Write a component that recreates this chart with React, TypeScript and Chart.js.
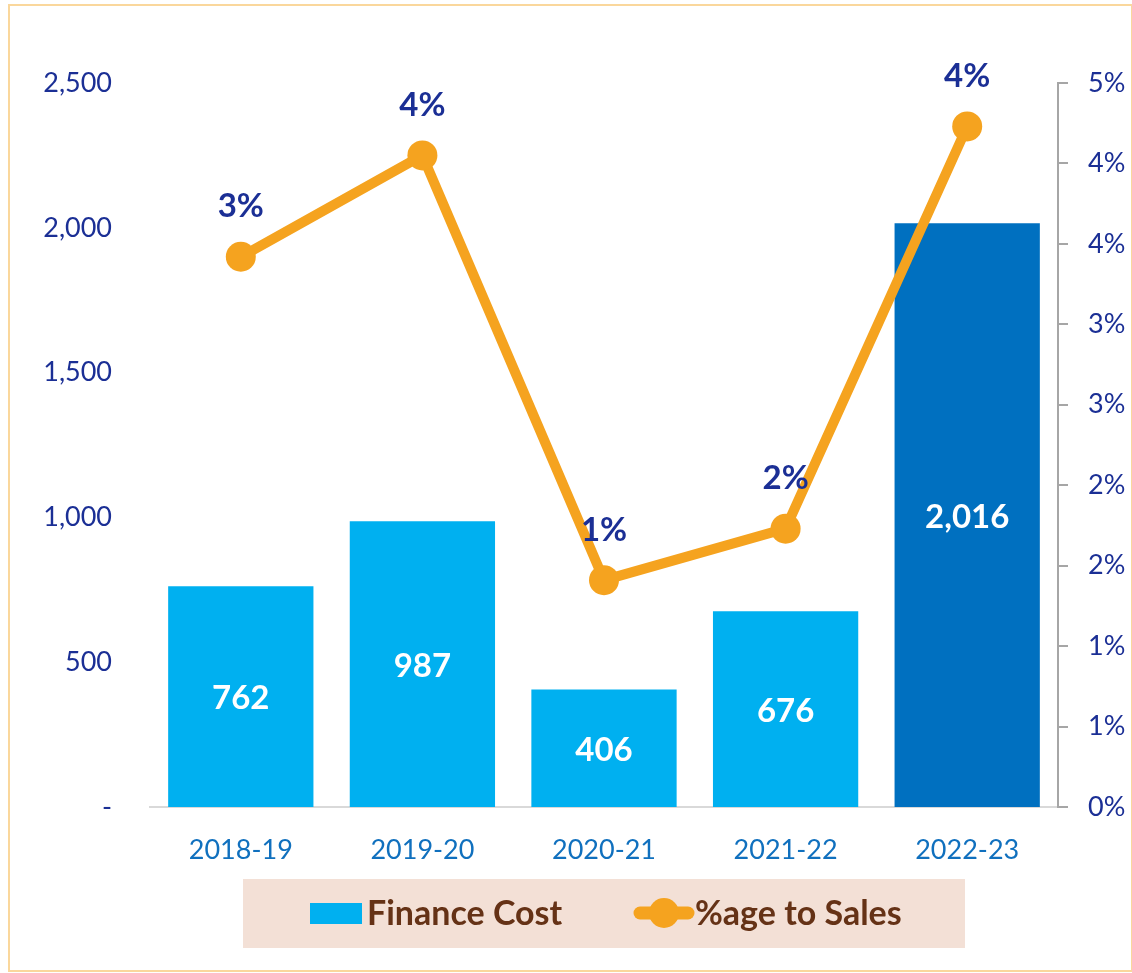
import React, { useEffect, useRef } from 'react';
import { Chart, registerables } from 'chart.js';

Chart.register(...registerables);

const categories = ['2018-19', '2019-20', '2020-21', '2021-22', '2022-23'];
const financeCost = [762, 987, 406, 676, 2016];
const pctToSales = [3.42, 4.05, 1.41, 1.73, 4.23];
const barColors = ['#00B0F0', '#00B0F0', '#00B0F0', '#00B0F0', '#0070C0'];
const leftAxis = { min: 0, max: 2500, step: 500 };
const rightAxis = { min: 0, max: 4.5, step: 0.5 };
const legendLabels = ['Finance Cost', '%age to Sales'];

const W = 1132;
const H = 973;
const FONT = 'Lato';
const NAVY = '#1B2F95';
const ORANGE = '#F5A31F';
const BROWN = '#653216';

const decorPlugin = {
  id: 'decor',
  beforeDraw(chart: any) {
    const ctx = chart.ctx;
    ctx.save();
    ctx.fillStyle = '#FFFFFF';
    ctx.fillRect(0, 0, W, H);
    ctx.strokeStyle = '#FAD79C';
    ctx.lineWidth = 2;
    ctx.strokeRect(9, 5, W - 9, H - 7);
    ctx.restore();
  },
  afterDatasetsDraw(chart: any) {
    const ctx = chart.ctx;
    ctx.save();
    ctx.textAlign = 'center';
    ctx.textBaseline = 'middle';
    const barMeta = chart.getDatasetMeta(1);
    ctx.font = `bold 33px ${FONT}`;
    ctx.fillStyle = '#FFFFFF';
    barMeta.data.forEach((el: any, i: number) => {
      const cy = (el.y + el.base) / 2;
      ctx.fillText(financeCost[i].toLocaleString('en-US'), el.x, cy + 2);
    });
    const lineMeta = chart.getDatasetMeta(0);
    ctx.fillStyle = NAVY;
    lineMeta.data.forEach((el: any, i: number) => {
      ctx.fillText(Math.round(pctToSales[i]) + '%', el.x, el.y - 50);
    });
    ctx.restore();
  },
  afterDraw(chart: any) {
    const ctx = chart.ctx;
    ctx.save();
    ctx.fillStyle = '#F3E0D6';
    ctx.fillRect(243, 879, 722, 69);
    ctx.fillStyle = '#00B0F0';
    ctx.fillRect(310, 903, 52, 21);
    ctx.font = `bold 34px ${FONT}`;
    ctx.fillStyle = BROWN;
    ctx.textAlign = 'left';
    ctx.textBaseline = 'middle';
    ctx.fillText(legendLabels[0], 367, 914);
    ctx.strokeStyle = ORANGE;
    ctx.lineWidth = 13;
    ctx.lineCap = 'round';
    ctx.beginPath();
    ctx.moveTo(640, 913);
    ctx.lineTo(688, 913);
    ctx.stroke();
    ctx.fillStyle = ORANGE;
    ctx.beginPath();
    ctx.arc(664, 913, 15, 0, Math.PI * 2);
    ctx.fill();
    ctx.fillStyle = BROWN;
    ctx.fillText(legendLabels[1], 695, 914);
    ctx.restore();
  },
};

export default function App() {
  const ref = useRef<HTMLCanvasElement>(null);
  useEffect(() => {
    if (!ref.current) return;
    const chart = new Chart(ref.current, {
      type: 'bar',
      data: {
        labels: categories,
        datasets: [
          {
            type: 'line',
            label: legendLabels[1],
            data: pctToSales,
            yAxisID: 'y1',
            borderColor: ORANGE,
            backgroundColor: ORANGE,
            borderWidth: 10,
            pointRadius: 15,
            pointHoverRadius: 15,
            pointBorderWidth: 0,
            pointBackgroundColor: ORANGE,
            tension: 0,
            order: 0,
          } as any,
          {
            type: 'bar',
            label: legendLabels[0],
            data: financeCost,
            yAxisID: 'y',
            backgroundColor: barColors,
            barPercentage: 0.8,
            categoryPercentage: 1,
            order: 1,
          } as any,
        ],
      },
      options: {
        responsive: false,
        animation: false,
        layout: { padding: { top: 83, left: 0, right: 0, bottom: 0 } },
        plugins: { legend: { display: false }, tooltip: { enabled: false } },
        scales: {
          x: {
            offset: true,
            grid: { display: false, drawTicks: false, tickLength: 0 },
            border: { display: true, color: '#D9D9D9', width: 2 },
            ticks: {
              color: '#1070BE',
              font: { family: FONT, size: 27 },
              padding: 27,
              maxRotation: 0,
            },
            afterFit: (s: any) => {
              s.height = 166;
            },
          },
          y: {
            position: 'left',
            min: leftAxis.min,
            max: leftAxis.max,
            grid: { display: false, drawTicks: false, tickLength: 0 },
            border: { display: false },
            ticks: {
              stepSize: leftAxis.step,
              color: NAVY,
              font: { family: FONT, size: 27 },
              padding: 38,
              callback: (v: any) => (Number(v) === 0 ? '-' : Number(v).toLocaleString('en-US')),
            },
            afterFit: (s: any) => {
              s.width = 150;
            },
          },
          y1: {
            position: 'right',
            min: rightAxis.min,
            max: rightAxis.max,
            grid: { display: true, drawOnChartArea: false, drawTicks: true, tickLength: 10, color: '#A6A6A6', lineWidth: 2 },
            border: { display: true, color: '#A6A6A6', width: 2 },
            ticks: {
              stepSize: rightAxis.step,
              color: NAVY,
              font: { family: FONT, size: 27 },
              padding: 20,
              callback: (v: any) => Math.round(Number(v)) + '%',
            },
            afterFit: (s: any) => {
              s.width = 74;
            },
          },
        },
      },
      plugins: [decorPlugin],
    });
    return () => chart.destroy();
  }, []);
  return (
    <div style={{ position: 'absolute', left: 0, top: 0, width: W, height: H }}>
      <canvas ref={ref} width={W} height={H} style={{ width: W, height: H }} />
    </div>
  );
}
